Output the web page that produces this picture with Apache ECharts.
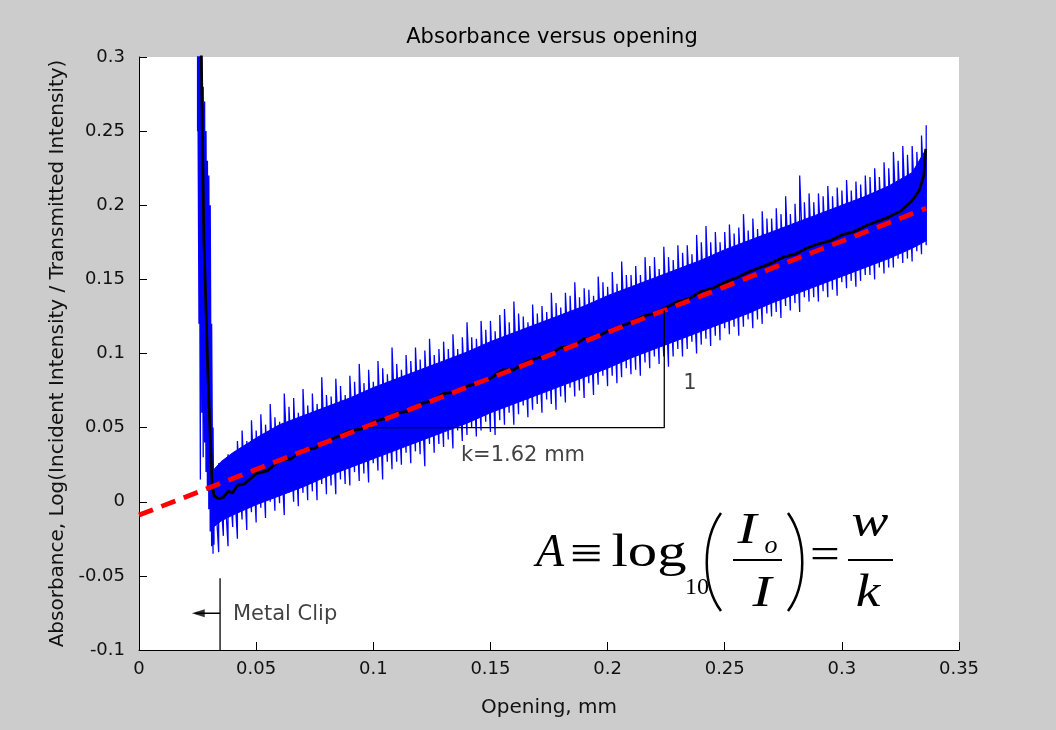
<!DOCTYPE html>
<html><head><meta charset="utf-8">
<script src="https://cdn.jsdelivr.net/npm/echarts@6/dist/echarts.min.js"></script>
<style>html,body{margin:0;padding:0;background:#cccccc}#c{width:1056px;height:730px}</style>
</head><body><div id="c"></div>
<script>
// ---- data ----
const xTickLabels = ['0','0.05','0.1','0.15','0.2','0.25','0.3','0.35'];
const yTickLabels = ['-0.1','-0.05','0','0.05','0.1','0.15','0.2','0.25','0.3'];

// raw (blue) signal: per x column, lowest and highest value of the noisy trace
const blueX = [0.0250,0.0256,0.0262,0.0268,0.0274,0.0280,0.0286,0.0292,0.0298,0.0304,0.0310,0.0316,
0.032,0.034,0.036,0.038,0.040,0.042,0.044,0.046,0.048,0.050,0.052,0.054,0.056,0.058,0.060,0.062,0.064,0.066,0.068,0.070,
0.072,0.074,0.076,0.078,0.080,0.082,0.084,0.086,0.088,0.090,0.092,0.094,0.096,0.098,0.100,0.102,0.104,0.106,0.108,0.110,
0.112,0.114,0.116,0.118,0.120,0.122,0.124,0.126,0.128,0.130,0.132,0.134,0.136,0.138,0.140,0.142,0.144,0.146,0.148,0.150,
0.152,0.154,0.156,0.158,0.160,0.162,0.164,0.166,0.168,0.170,0.172,0.174,0.176,0.178,0.180,0.182,0.184,0.186,0.188,0.190,
0.192,0.194,0.196,0.198,0.200,0.202,0.204,0.206,0.208,0.210,0.212,0.214,0.216,0.218,0.220,0.222,0.224,0.226,0.228,0.230,
0.232,0.234,0.236,0.238,0.240,0.242,0.244,0.246,0.248,0.250,0.252,0.254,0.256,0.258,0.260,0.262,0.264,0.266,0.268,0.270,
0.272,0.274,0.276,0.278,0.280,0.282,0.284,0.286,0.288,0.290,0.292,0.294,0.296,0.298,0.300,0.302,0.304,0.306,0.308,0.310,
0.312,0.314,0.316,0.318,0.320,0.322,0.324,0.326,0.328,0.330,0.332,0.334,0.336];
const blueLo = [0.250,0.120,0.015,0.060,0.030,0.040,0.020,0.010,-0.005,-0.020,-0.030,-0.035,
-0.029,-0.034,-0.023,-0.030,-0.017,-0.025,-0.012,-0.019,-0.007,-0.014,
-0.004,-0.011,0.000,-0.006,-0.001,-0.009,0.006,0.000,-0.003,0.006,
0.001,0.007,0.001,0.012,0.005,0.011,0.005,0.015,0.012,0.011,
0.020,0.014,0.019,0.013,0.026,0.021,0.015,0.027,0.022,0.027,
0.025,0.033,0.026,0.034,0.032,0.024,0.039,0.033,0.039,0.037,
0.042,0.036,0.048,0.041,0.045,0.050,0.044,0.048,0.054,0.047,
0.045,0.055,0.052,0.060,0.052,0.059,0.065,0.057,0.062,0.066,
0.060,0.069,0.066,0.062,0.071,0.067,0.077,0.071,0.075,0.070,
0.080,0.072,0.079,0.085,0.078,0.085,0.080,0.084,0.090,0.086,
0.089,0.085,0.094,0.090,0.098,0.093,0.098,0.091,0.098,0.103,
0.098,0.103,0.108,0.100,0.106,0.110,0.105,0.112,0.109,0.117,
0.113,0.118,0.112,0.118,0.123,0.117,0.123,0.120,0.127,0.125,
0.128,0.124,0.132,0.129,0.134,0.128,0.138,0.135,0.138,0.135,
0.142,0.138,0.143,0.139,0.148,0.144,0.149,0.145,0.149,0.153,
0.153,0.150,0.158,0.154,0.158,0.158,0.164,0.161,0.164,0.162,
0.169,0.167,0.173];
const blueHi = [0.330,0.330,0.320,0.310,0.280,0.270,0.250,0.230,0.220,0.200,0.120,0.050,
0.021,0.026,0.025,0.032,0.032,0.041,0.048,0.041,0.055,0.048,
0.059,0.052,0.066,0.057,0.054,0.073,0.064,0.070,0.060,0.076,
0.065,0.073,0.066,0.084,0.072,0.071,0.083,0.078,0.072,0.085,
0.081,0.093,0.080,0.089,0.081,0.095,0.090,0.086,0.104,0.093,
0.089,0.099,0.095,0.104,0.096,0.102,0.110,0.099,0.103,0.108,
0.103,0.113,0.103,0.111,0.121,0.111,0.110,0.122,0.116,0.122,
0.115,0.126,0.130,0.121,0.135,0.127,0.125,0.121,0.133,0.127,
0.132,0.128,0.141,0.134,0.131,0.141,0.139,0.148,0.138,0.144,
0.143,0.139,0.152,0.148,0.145,0.155,0.147,0.162,0.153,0.153,
0.159,0.153,0.165,0.159,0.165,0.157,0.172,0.165,0.163,0.173,
0.168,0.173,0.167,0.180,0.175,0.186,0.175,0.182,0.175,0.182,
0.187,0.181,0.185,0.194,0.183,0.191,0.184,0.196,0.191,0.191,
0.198,0.194,0.206,0.194,0.201,0.220,0.202,0.208,0.202,0.208,
0.206,0.213,0.206,0.212,0.210,0.217,0.210,0.216,0.214,0.220,
0.219,0.225,0.219,0.229,0.225,0.236,0.230,0.240,0.234,0.240,
0.236,0.247,0.254];

// dense (solid) part of the blue band
const coreX  = [0.031,0.035,0.040,0.050,0.060,0.070,0.080,0.090,0.100,0.110,0.120,0.130,0.140,0.150,0.160,0.170,0.180,0.190,0.200,0.210,0.220,0.230,0.240,0.250,0.260,0.270,0.280,0.290,0.300,0.310,0.320,0.330,0.336];
const coreLo = [-0.018,-0.013,-0.009,-0.002,0.004,0.010,0.017,0.023,0.029,0.035,0.041,0.047,0.053,0.060,0.066,0.072,0.078,0.084,0.090,0.097,0.103,0.109,0.115,0.121,0.127,0.134,0.140,0.146,0.152,0.158,0.164,0.171,0.176];
const coreHi = [0.020,0.027,0.033,0.043,0.052,0.058,0.064,0.070,0.077,0.083,0.089,0.095,0.101,0.108,0.114,0.120,0.126,0.132,0.139,0.145,0.151,0.157,0.163,0.170,0.176,0.182,0.188,0.194,0.200,0.206,0.213,0.222,0.238];

// smoothed (black) signal
const smoothX = [0.0262,0.0266,0.0277,0.0294,0.0305,0.0312,0.032,0.034,0.036,0.038,0.040,0.042,0.045,0.050,0.055,0.060,0.065,0.070,0.075,0.080,0.085,0.090,0.095,0.100,0.105,0.110,0.115,0.120,0.125,0.130,0.135,0.140,0.145,0.150,0.155,0.160,0.165,0.170,0.175,0.180,0.185,0.190,0.195,0.200,0.205,0.210,0.215,0.220,0.225,0.230,0.235,0.240,0.245,0.250,0.255,0.260,0.265,0.270,0.275,0.280,0.285,0.290,0.295,0.300,0.305,0.310,0.315,0.320,0.325,0.330,0.333,0.335,0.3358];
const smoothY = [0.320,0.300,0.177,0.087,0.040,0.0125,0.004,0.002,0.003,0.007,0.006,0.011,0.012,0.019,0.021,0.028,0.029,0.035,0.036,0.041,0.044,0.048,0.049,0.054,0.056,0.060,0.061,0.066,0.068,0.073,0.074,0.078,0.080,0.083,0.089,0.089,0.094,0.097,0.099,0.104,0.105,0.110,0.111,0.115,0.118,0.121,0.125,0.127,0.131,0.135,0.137,0.142,0.144,0.148,0.151,0.155,0.158,0.161,0.165,0.167,0.171,0.174,0.176,0.180,0.182,0.186,0.189,0.192,0.196,0.203,0.210,0.220,0.238];

// linear fit (red dashed)
const fitX = [0, 0.336];
const fitY = [-0.009, 0.198];

// annotations
const slopeX = [0.098, 0.2242, 0.2242];
const slopeY = [0.05, 0.05, 0.129];
const clipX = [0.0346, 0.0346];
const clipY = [-0.0516, -0.1];
const arrowX = [0.0346, 0.0240];
const arrowY = [-0.0752, -0.0752];
const arrowHead = [0.0253, -0.0752];
const noteTexts = ['k=1.62 mm', '1', 'Metal Clip'];
const notePos = [[0.1639, 0.0314], [0.2352, 0.080], [0.0401, -0.0758]];

// ---- build ----
const pairs = (xs, ys) => xs.map((x, i) => [x, ys[i]]);
const zig = [];
blueX.forEach((x, i) => { zig.push([x, blueLo[i]]); zig.push([x, blueHi[i]]); });

const SANS = 'DejaVu Sans';
const SERIF = '"Liberation Serif","DejaVu Serif",serif';
const fmt = v => String(Math.round(v * 100) / 100);

const chart = echarts.init(document.getElementById('c'), null, {renderer: 'canvas'});
const txt = (text, x, y, size, italic, sx) => ({
  type: 'text', x, y, z: 100, scaleX: sx || 1,
  style: {text, fontFamily: SERIF, fontSize: size, fontStyle: italic ? 'italic' : 'normal',
          fill: '#000', align: 'center', verticalAlign: 'middle'}
});

chart.setOption({
  animation: false,
  backgroundColor: '#cccccc',
  title: {
    text: 'Absorbance versus opening', left: 547, top: 22, textAlign: 'center',
    textStyle: {fontFamily: SANS, fontSize: 21, fontWeight: 'normal', color: '#000'}
  },
  grid: {left: 139, right: 97, top: 57, bottom: 80, show: true, backgroundColor: '#ffffff', borderWidth: 0},
  xAxis: {
    type: 'value', min: 0, max: 0.35, interval: 0.05,
    name: 'Opening, mm', nameLocation: 'middle', nameGap: 48,
    nameTextStyle: {fontFamily: SANS, fontSize: 20, color: '#111'},
    axisLine: {onZero: false, lineStyle: {color: '#000', width: 1}},
    axisTick: {inside: true, length: 8, lineStyle: {color: '#000'}},
    axisLabel: {fontFamily: SANS, fontSize: 18, color: '#111', margin: 10,
      formatter: v => xTickLabels[Math.round(v / 0.05)] || fmt(v)},
    splitLine: {show: false}
  },
  yAxis: {
    type: 'value', min: -0.1, max: 0.3, interval: 0.05,
    name: 'Absorbance, Log(Incident Intensity / Transmitted Intensity)',
    nameLocation: 'middle', nameGap: 68, nameRotate: 90,
    nameTextStyle: {fontFamily: SANS, fontSize: 20, color: '#111'},
    axisLine: {onZero: false, lineStyle: {color: '#000', width: 1}},
    axisTick: {inside: true, length: 8, lineStyle: {color: '#000'}},
    axisLabel: {fontFamily: SANS, fontSize: 18, color: '#111', margin: 14,
      formatter: v => yTickLabels[Math.round((v + 0.1) / 0.05)] || fmt(v)},
    splitLine: {show: false}
  },
  series: [
    {type: 'custom', name: 'core', coordinateSystem: 'cartesian2d', data: [[0.1, 0]], clip: true, silent: true,
     renderItem: (params, api) => {
       const pts = [];
       coreX.forEach((x, i) => pts.push(api.coord([x, coreHi[i]])));
       for (let i = coreX.length - 1; i >= 0; i--) pts.push(api.coord([coreX[i], coreLo[i]]));
       return {type: 'polygon', shape: {points: pts}, style: {fill: '#0000ff', stroke: '#0000ff', lineWidth: 1}};
     }},
    {type: 'line', name: 'raw', data: zig, showSymbol: false,
     lineStyle: {width: 1.3, color: '#0000ff'}, silent: true},
    {type: 'line', name: 'smooth', data: pairs(smoothX, smoothY), showSymbol: false,
     lineStyle: {width: 2.8, color: '#000000'}, silent: true},
    {type: 'line', name: 'fit', data: pairs(fitX, fitY), showSymbol: false,
     lineStyle: {width: 4.8, color: '#ff0000', type: [15, 9]}, silent: true},
    {type: 'line', name: 'slope', data: pairs(slopeX, slopeY), showSymbol: false,
     lineStyle: {width: 1.3, color: '#000'}, silent: true, z: 5},
    {type: 'line', name: 'clip', data: pairs(clipX, clipY), showSymbol: false,
     lineStyle: {width: 1.3, color: '#000'}, silent: true, z: 5},
    {type: 'line', name: 'arrow', data: pairs(arrowX, arrowY), showSymbol: false,
     lineStyle: {width: 1.3, color: '#000'}, silent: true, z: 5},
    {type: 'scatter', name: 'arrowHead', data: [arrowHead], symbol: 'triangle', symbolSize: [8, 13],
     symbolRotate: 90, itemStyle: {color: '#000'}, silent: true, z: 6},
    {type: 'scatter', name: 'notes', silent: true, z: 7, symbolSize: 0,
     data: notePos.map((p, i) => ({value: p, label: {
       show: true, formatter: noteTexts[i], position: i === 2 ? 'right' : 'inside', distance: 0,
       fontFamily: SANS, fontSize: 21, color: '#111'}}))}
  ],
  graphic: [
    txt('A', 550, 554, 46, true),
    txt('\u2261', 586, 556, 48, false, 1.2),
    txt('log', 649, 554, 47, false, 1.25),
    txt('10', 697, 588, 24, false),
    {type: 'bezierCurve', z: 100, shape: {x1: 721, y1: 513, cpx1: 702, cpy1: 540, cpx2: 702, cpy2: 585, x2: 721, y2: 611},
     style: {stroke: '#000', lineWidth: 2.5, fill: null}},
    txt('I', 747, 531, 44, true, 1.3),
    txt('o', 771, 546, 26, true),
    {type: 'line', z: 100, shape: {x1: 733, y1: 560, x2: 782, y2: 560}, style: {stroke: '#000', lineWidth: 2}},
    txt('I', 762, 594, 44, true, 1.3),
    {type: 'bezierCurve', z: 100, shape: {x1: 788, y1: 513, cpx1: 807, cpy1: 540, cpx2: 807, cpy2: 585, x2: 788, y2: 611},
     style: {stroke: '#000', lineWidth: 2.5, fill: null}},
    txt('=', 825, 556, 44, false, 1.2),
    txt('w', 870, 524, 46, true, 1.2),
    {type: 'line', z: 100, shape: {x1: 848, y1: 560, x2: 893, y2: 560}, style: {stroke: '#000', lineWidth: 2}},
    txt('k', 868, 594, 46, true, 1.2)
  ]
});
</script></body></html>
